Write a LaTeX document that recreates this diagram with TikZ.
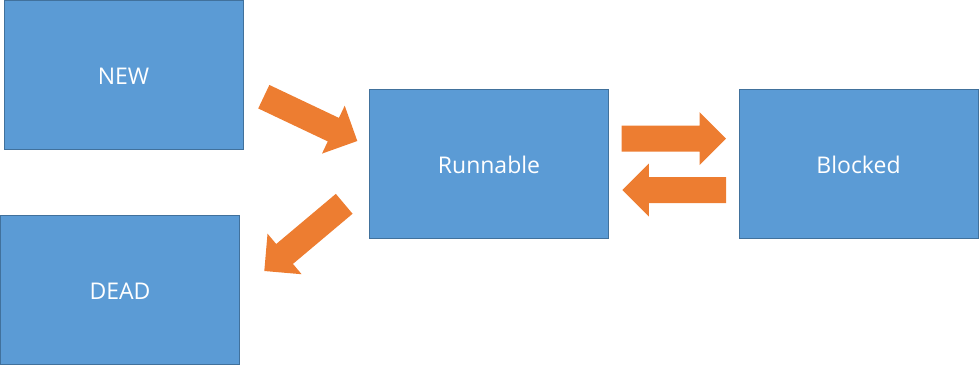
\documentclass[tikz,border=0pt]{standalone}
\usepackage{fontspec}
\setmainfont{Open Sans}
\usetikzlibrary{calc}
\definecolor{boxfill}{HTML}{5B9BD5}
\definecolor{boxline}{HTML}{41719C}
\definecolor{arrowfill}{HTML}{ED7D31}
\tikzset{
  state/.style={rectangle, fill=boxfill, draw=boxline, line width=1pt,
    minimum width=239pt, minimum height=149pt, inner sep=0pt, outer sep=0pt,
    text height=19pt, text depth=0pt,
    text=white, font=\fontsize{23}{28}\selectfont},
  blockarrow/.style={fill=arrowfill, draw=none}
}
% #1 tail middle, #2 tip
\newcommand{\blockarr}[2]{%
  \path[blockarrow]
    ($(#1)!13pt!90:(#2)$) --
    ($($(#2)!26.5pt!(#1)$)!13pt!90:(#2)$) --
    ($($(#2)!26.5pt!(#1)$)!26.5pt!90:(#2)$) --
    (#2) --
    ($($(#2)!26.5pt!(#1)$)!26.5pt!-90:(#2)$) --
    ($($(#2)!26.5pt!(#1)$)!13pt!-90:(#2)$) --
    ($(#1)!13pt!-90:(#2)$) -- cycle;}
\begin{document}
\begin{tikzpicture}[x=1pt,y=-1pt]
\useasboundingbox (0,0) rectangle (979,365);
\node[state] (new) at (123.5,74.75) {NEW};
\node[state] (dead) at (120,289.5) {DEAD};
\node[state] (run) at (489,164) {Runnable};
\node[state] (blk) at (858.5,164) {Blocked};
\coordinate (a1) at (263.8,96.7);
\coordinate (b1) at (357.3,141);
\coordinate (a2) at (344.2,203.8);
\coordinate (b2) at (264.3,271);
\coordinate (a3) at (621.7,138.7);
\coordinate (b3) at (726,138.7);
\coordinate (a4) at (726,190);
\coordinate (b4) at (622.3,190);
\blockarr{a1}{b1}
\blockarr{a2}{b2}
\blockarr{a3}{b3}
\blockarr{a4}{b4}
\end{tikzpicture}
\end{document}
